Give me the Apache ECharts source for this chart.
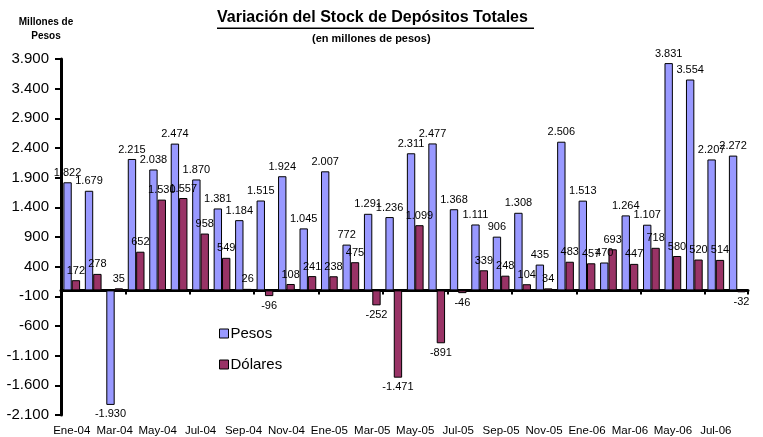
<!DOCTYPE html>
<html>
<head>
<meta charset="utf-8">
<style>
  html, body { margin: 0; padding: 0; background: #fff; }
  #chart { width: 763px; height: 437px; }
</style>
<script src="https://cdn.jsdelivr.net/npm/echarts@6/dist/echarts.min.js"></script>
</head>
<body>
<div id="chart"></div>
<script>
const months = [
  "Ene-04", "Feb-04", "Mar-04", "Abr-04", "May-04", "Jun-04", "Jul-04", "Ago-04",
  "Sep-04", "Oct-04", "Nov-04", "Dic-04", "Ene-05", "Feb-05", "Mar-05", "Abr-05",
  "May-05", "Jun-05", "Jul-05", "Ago-05", "Sep-05", "Oct-05", "Nov-05", "Dic-05",
  "Ene-06", "Feb-06", "Mar-06", "Abr-06", "May-06", "Jun-06", "Jul-06", "Ago-06",
];
const pesos = [
  1822, 1679, -1930, 2215, 2038, 2474, 1870, 1381,
  1184, 1515, 1924, 1045, 2007, 772, 1291, 1236,
  2311, 2477, 1368, 1111, 906, 1308, 435, 2506,
  1513, 470, 1264, 1107, 3831, 3554, 2207, 2272,
];
const dolares = [
  172, 278, 35, 652, 1530, 1557, 958, 549,
  26, -96, 108, 241, 238, 475, -252, -1471,
  1099, -891, -46, 339, 248, 104, 34, 483,
  457, 693, 447, 718, 580, 520, 514, -32,
];

const font = "Liberation Sans, Arial, sans-serif";

function fmt(v) {
  const s = String(Math.abs(v)).replace(/\B(?=(\d{3})+(?!\d))/g, ".");
  return (v < 0 ? "-" : "") + s;
}

function toItems(values) {
  return values.map((v) => ({
    value: v,
    label: { position: v < 0 ? "bottom" : "top" },
  }));
}

const chart = echarts.init(document.getElementById("chart"), null, { renderer: "canvas" });

const barLabel = {
  show: true,
  fontFamily: font,
  fontSize: 11,
  color: "#000",
  distance: 4,
  formatter: (p) => fmt(p.value),
};

chart.setOption({
  animation: false,
  title: [
    {
      text: "Variación del Stock de Depósitos Totales",
      left: 217,
      top: 10,
      padding: 0,
      textStyle: { fontFamily: font, fontSize: 16, fontWeight: "bold", color: "#000" },
    },
    {
      text: "(en millones de pesos)",
      left: 312,
      top: 33,
      padding: 0,
      textStyle: { fontFamily: font, fontSize: 11, fontWeight: "bold", color: "#000" },
    },
    {
      text: "Millones de\nPesos",
      left: 46,
      top: 15,
      padding: 0,
      textAlign: "center",
      textStyle: { fontFamily: font, fontSize: 10, fontWeight: "bold", color: "#000", lineHeight: 14 },
    },
  ],
  graphic: [
    { type: "rect", shape: { x: 217, y: 27.5, width: 317, height: 1.5 }, style: { fill: "#000" } },
  ],
  legend: {
    orient: "vertical",
    left: 214,
    top: 321,
    itemWidth: 9,
    itemHeight: 9,
    itemGap: 16,
    icon: "rect",
    itemStyle: { borderColor: "#000", borderWidth: 1 },
    textStyle: { fontFamily: font, fontSize: 15, color: "#000", padding: [0, 0, 0, -3] },
    data: ["Pesos", "Dólares"],
  },
  grid: { left: 61, right: 15, top: 59, bottom: 18, containLabel: false },
  xAxis: [
    {
      type: "category",
      data: months,
      axisLine: { onZero: true, lineStyle: { color: "#000", width: 3 } },
      axisTick: { show: true, length: 4, lineStyle: { color: "#000", width: 2 } },
      axisLabel: { show: false },
    },
    {
      type: "category",
      data: months,
      position: "bottom",
      axisLine: { show: false, onZero: false },
      axisTick: { show: false },
      axisLabel: {
        interval: 1,
        fontFamily: font,
        fontSize: 11.5,
        color: "#000",
        margin: 10,
      },
    },
  ],
  yAxis: {
    type: "value",
    min: -2100,
    max: 3900,
    interval: 500,
    axisLine: { show: true, lineStyle: { color: "#000", width: 3 } },
    axisTick: { show: true, length: 6, lineStyle: { color: "#000", width: 2 } },
    splitLine: { show: false },
    axisLabel: {
      fontFamily: font,
      fontSize: 15,
      color: "#000",
      margin: 12,
      formatter: (v) => fmt(v),
    },
  },
  series: [
    {
      name: "Pesos",
      type: "bar",
      data: toItems(pesos),
      barGap: "0%",
      barCategoryGap: "22%",
      itemStyle: { color: "#9999FF", borderColor: "#000", borderWidth: 1 },
      label: barLabel,
    },
    {
      name: "Dólares",
      type: "bar",
      data: toItems(dolares),
      itemStyle: { color: "#993366", borderColor: "#000", borderWidth: 1 },
      label: barLabel,
    },
  ],
});
</script>
</body>
</html>
